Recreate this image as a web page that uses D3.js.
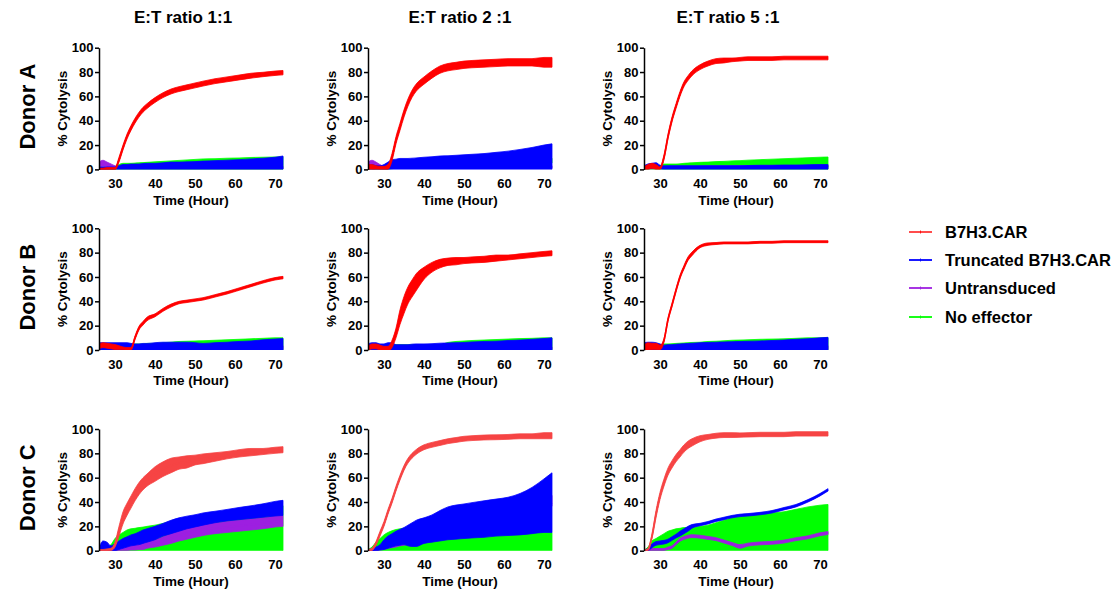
<!DOCTYPE html>
<html><head><meta charset="utf-8">
<script src="https://cdn.jsdelivr.net/npm/d3@7"></script>
<style>
body{margin:0;background:#fff}
svg text{font-family:"Liberation Sans",Arial,Helvetica,sans-serif;font-weight:bold;fill:#000}
</style>
</head><body>
<svg id="chart" width="1116" height="594"></svg>
<script>
// ---------------- DATA ----------------
const donors = ["Donor A", "Donor B", "Donor C"];
const ratios = ["E:T ratio 1:1", "E:T ratio 2 :1", "E:T ratio 5 :1"];
const seriesNames = ["B7H3.CAR", "Truncated B7H3.CAR", "Untransduced", "No effector"];
const hours = [26,27,28,29,30,31,32,33,34,35,36,37,38,40,42,44,46,48,50,52,55,58,61,64,67,70,72];
const xTicks = [30,40,50,60,70];
const yTicks = [0,20,40,60,80,100];

// Donor A, 1:1
const A1_car      = [0,0,0.5,0.5,0.5,8,18,27,34,40,45,49,52,57,61,64,66,67.5,69,70.5,72.5,74,75.5,77,78,79,79.5];
const A1_car_err  = [1,1,1,1,1,2,2,2,2,2,2,2,2,2,2,2,2,2,2,2,2,2,2,2,1.8,1.8,1.8];
const A1_trunc    = [1,1,1,1,1,1.5,2,2,2.2,2.2,2.2,2.4,2.5,2.5,2.7,3,3,3.1,3.2,3.4,3.6,3.8,4,4.3,4.6,5,5.5];
const A1_trunc_err= [1,1,1,1,1,1.5,2,2,2.2,2.2,2.2,2.4,2.5,2.5,2.7,3,3,3.1,3.2,3.4,3.6,3.8,4,4.3,4.6,5,5.5];
const A1_untr     = [4,5,4,3,2,1.5,1.5,1.5,1.5,1.5,1.5,1.5,1.5,1.5,1.5,1.5,1.5,1.5,1.5,1.5,1.5,1.5,1.5,1.5,1.5,1.5,1.5];
const A1_untr_err = [2,2.5,2,1.5,1,1,1,1,1,1,1,1,1,1,1,1,1,1,1,1,1,1,1,1,1,1,1];
const A1_noeff    = [0.8,0.8,0.8,0.8,1,2,2.5,2.5,2.5,2.6,2.7,2.8,2.9,3.1,3.3,3.5,3.7,3.9,4.1,4.3,4.4,4.6,4.7,4.9,5,5.1,5.2];
const A1_noeff_err= [0.8,0.8,0.8,0.8,1,2,2.5,2.5,2.5,2.6,2.7,2.8,2.9,3.1,3.3,3.5,3.7,3.9,4.1,4.3,4.4,4.6,4.7,4.9,5,5.1,5.2];

// Donor A, 2:1
const A2_car      = [2,2,1,1,1,2,10,24,35,46,55,62,67,73,78,82,84,85,86,86.5,87,87.5,88,88,88,88,88];
const A2_car_err  = [2,2,2,1.5,1.5,2,3,3,3,3,3,3,3,3,3,3,3,3,3,3,3,3,3,3,3,4,4];
const A2_trunc    = [1.5,2,1.5,1.5,2,3,4,4.2,4.5,4.5,4.5,4.6,4.7,5,5.2,5.5,5.6,5.8,6,6.2,6.5,7,7.5,8.2,9,10,10.5];
const A2_trunc_err= [1.5,2,1.5,1.5,2,3,4,4.2,4.5,4.5,4.5,4.6,4.7,5,5.2,5.5,5.6,5.8,6,6.2,6.5,7,7.5,8.2,9,10,10.5];
const A2_untr     = [4,5,4,2.5,1.5,1.5,2,2,2,2,2,2,2,2,2,2,2,2,2,2,2,2,2,2,2,2,2];
const A2_untr_err = [2,2.5,2,1.5,1,1,1,1,1,1,1,1,1,1,1,1,1,1,1,1,1,1,1,1,1,1,1];
const A2_noeff    = [1,1,1,1,1.5,2,2.5,3,3,3,3,3,3.2,3.5,3.8,4,4.2,4.4,4.6,4.8,5,5.3,5.6,6,6.5,7,7.2];
const A2_noeff_err= [1,1,1,1,1.5,2,2,2,2,2,2,2,2,2,2,2,2,2,2,2,2,2,2,2,2,2,2];

// Donor A, 5:1
const A3_car      = [1,2,3,2,1,10,27,41,52,62,70,75,79,84,87,89,89.5,90,90.5,91,91,91,91.5,91.5,91.5,91.5,91.5];
const A3_car_err  = [1,2,2,2,1,2,2,2,2,2,2,2,2,2,2,2,2,1.5,1.5,1.5,1.5,1.5,1.5,1.5,1.5,1.5,1.5];
const A3_trunc    = [2,2.5,3,3.5,2,1.5,1.5,1.5,1.5,1.5,1.5,1.5,1.5,1.5,1.5,1.5,1.5,1.5,1.5,1.6,1.7,1.7,1.8,1.8,1.9,2,2];
const A3_trunc_err= [1,2,2,2,1.5,1.5,1.5,1.5,1.5,1.5,1.5,1.5,1.5,1.5,1.5,1.5,1.5,1.5,1.5,1.6,1.7,1.7,1.8,1.8,1.9,2,2];
const A3_untr     = [1,1,1,1,1,1.5,2,2,2,2,2,2,2,2,2.2,2.2,2.2,2.2,2.3,2.3,2.3,2.3,2.4,2.4,2.4,2.4,2.4];
const A3_untr_err = [0.7,0.7,0.7,0.7,0.7,0.7,0.7,0.7,0.7,0.7,0.7,0.7,0.7,0.7,0.7,0.7,0.7,0.7,0.7,0.7,0.7,0.7,0.7,0.7,0.7,0.7,0.7];
const A3_noeff    = [0.8,1,1.2,1.2,1.5,2.2,2.2,2.2,2.2,2.3,2.5,2.6,2.7,2.9,3,3.2,3.3,3.5,3.6,3.8,4,4.2,4.4,4.6,4.8,5,5.1];
const A3_noeff_err= [0.8,1,1.2,1.2,1.5,2.2,2.2,2.2,2.2,2.3,2.5,2.6,2.7,2.9,3,3.2,3.3,3.5,3.6,3.8,4,4.2,4.4,4.6,4.8,5,5.1];

// Donor B, 1:1
const B1_car      = [3,4,3.5,3,2.5,2,1.5,1,1,10,18,22,25.5,28.5,33,36.5,39,40,41,42,44.5,47,50,53,56,58.5,59.5];
const B1_car_err  = [2,2,2,2,2,1.5,1,1,1,1.5,1.5,1.5,1.5,1.2,1.2,1.2,1,1,1,1,1,1,1,1,1,1,1];
const B1_trunc    = [3,3,3,3,3,3,3,3,2.7,2.5,2.5,2.7,2.7,3,3.2,3.2,3.2,3.2,3,2.7,3,3.2,3.5,3.7,4.2,4.5,4.7];
const B1_trunc_err= [3,3,3,3,3,3,3,3,2.7,2.5,2.5,2.7,2.7,3,3.2,3.2,3.2,3.2,3,2.7,3,3.2,3.5,3.7,4.2,4.5,4.7];
const B1_untr     = [2,2,2,2,2,2,2,2,2,2,2,2,2,2,2,2,2,2,2,2,2,2,2,2,2,2,2];
const B1_untr_err = [1.5,1.5,1.5,1.5,1.5,1.5,1.5,1.5,1.5,1.5,1.5,1.5,1.5,1.5,1.5,1.5,1.5,1.5,1.5,1.5,1.5,1.5,1.5,1.5,1.5,1.5,1.5];
const B1_noeff    = [2.5,2.5,2.5,2.5,2.5,2.5,2.5,2.5,2.5,2.5,2.5,2.5,2.7,2.7,3,3.2,3.5,3.6,3.7,3.8,4,4.2,4.4,4.6,4.8,5,5];
const B1_noeff_err= [2.5,2.5,2.5,2.5,2.5,2.5,2.5,2.5,2.5,2.5,2.5,2.5,2.7,2.7,3,3.2,3.5,3.6,3.7,3.8,4,4.2,4.4,4.6,4.8,5,5];

// Donor B, 2:1
const B2_car      = [1,3,3,2,1,1,5,14,27,37,45,50.5,55.5,63,68,71,72.5,73,73.5,74,74.5,75.5,76,77,78,79,79.5];
const B2_car_err  = [2,2,2,2,2,2,3,4,6,7,7,7,7,5,4,3.5,3,3,2.5,2.5,2.5,2.5,2,2,2,2,2];
const B2_trunc    = [2.5,3,3,2.5,2.5,3,3,2.2,2.2,2.2,2.2,2.4,2.5,2.5,2.6,2.8,2.9,3,3.1,3.3,3.5,3.6,3.9,4.1,4.4,4.7,5];
const B2_trunc_err= [2.5,3,3,2.5,2.5,3,3,2.2,2.2,2.2,2.2,2.4,2.5,2.5,2.6,2.8,2.9,3,3.1,3.3,3.5,3.6,3.9,4.1,4.4,4.7,5];
const B2_untr     = [2,3,2.5,2,1.5,1.5,1.5,1.5,1.5,1.5,1.5,1.5,1.5,1.5,1.5,1.5,1.5,1.5,1.5,1.5,1.5,1.5,1.5,1.5,1.5,1.5,1.5];
const B2_untr_err = [1.5,2,1.5,1.5,1,1,1,1,1,1,1,1,1,1,1,1,1,1,1,1,1,1,1,1,1,1,1];
const B2_noeff    = [2.2,2.2,2.2,2.2,2.2,2.2,2.2,2.2,2.2,2.2,2.2,2.2,2.2,2.2,2.2,2.2,3.1,3.5,3.7,3.9,4.1,4.3,4.5,4.7,4.8,5,5];
const B2_noeff_err= [2.2,2.2,2.2,2.2,2.2,2.2,2.2,2.2,2.2,2.2,2.2,2.2,2.2,2.2,2.2,2.2,3.1,3.5,3.7,3.9,4.1,4.3,4.5,4.7,4.8,5,5];

// Donor B, 5:1
const B3_car      = [2,3,3,3,2,8,25,37,49,60,68,75,79,85,87,87.5,88,88,88,88,88.5,88.5,89,89,89,89,89];
const B3_car_err  = [2,3,2.5,2.5,2,1.5,1.5,1.5,1.5,1.5,1.5,1.5,1.5,1,1,0.8,0.8,0.8,0.8,0.8,0.8,0.8,0.8,0.8,0.8,0.8,0.8];
const B3_trunc    = [3,3.2,3.2,3,2.5,2,2.2,2.2,2.4,2.5,2.6,2.7,2.8,3,3.1,3.2,3.3,3.4,3.5,3.6,3.7,3.9,4.1,4.4,4.6,5,5.2];
const B3_trunc_err= [3,3.2,3.2,3,2.5,2,2.2,2.2,2.4,2.5,2.6,2.7,2.8,3,3.1,3.2,3.3,3.4,3.5,3.6,3.7,3.9,4.1,4.4,4.6,5,5.2];
const B3_untr     = [2,2,2,2,2,2,2,2,2,2,2,2,2,2,2,2,2,2,2,2,2,2,2,2,2,2,2];
const B3_untr_err = [1.5,1.5,1.5,1.5,1.5,1.5,1.5,1.5,1.5,1.5,1.5,1.5,1.5,1.5,1.5,1.5,1.5,1.5,1.5,1.5,1.5,1.5,1.5,1.5,1.5,1.5,1.5];
const B3_noeff    = [2,2,2,2,2,2.5,2.5,2.6,2.7,2.8,2.9,3,3.1,3.2,3.5,3.6,3.8,4,4.1,4.2,4.4,4.5,4.6,4.8,5,5,5.1];
const B3_noeff_err= [2,2,2,2,2,2.5,2.5,2.6,2.7,2.8,2.9,3,3.1,3.2,3.5,3.6,3.8,4,4.1,4.2,4.4,4.5,4.6,4.8,5,5,5.1];

// Donor C, 1:1
const C1_car      = [0,0,0.5,1,5,16,27,34,40,46,51,55,58,63,67,70,72,73,74.5,75.5,77,78.5,80,81,81.5,82.5,83];
const C1_car_err  = [1,1,1,1,2,4,5,5,5,5,5,5,5,6,6,6,5,5,4,4,3.5,3,3,3,2.5,2.5,2.5];
const C1_trunc    = [1,4.5,4,2,3,4.5,6,7.2,8.5,9.2,10.2,11.5,12.5,14.5,17.2,19.5,21.5,23.2,24.5,26,27.7,29.2,30.5,31.7,33,34.5,35.2];
const C1_trunc_err= [1,3.5,3,2,3,3.5,4,4.2,4.5,4.7,5.2,5.5,5.5,5.5,5.2,5.5,5.5,5.2,5,5,4.7,4.7,5,5.2,5.5,6,6.2];
const C1_untr     = [1,1,1,1,1,1,1.5,2,2.5,3,3.5,4,5,6,8,10,12.5,14.5,16,17.5,18.5,19.5,20.5,21.5,22.5,24,24.5];
const C1_untr_err = [1,1,1,1,1,1,1.5,2,2,2.5,2.5,3,3,3,3.5,4,4.5,5,5,5,4.5,4.5,4.5,4.5,4.5,4.5,4.5];
const C1_noeff    = [1,1.5,1.5,2.5,5,6.5,7.5,8.5,9,9.2,9.5,9.7,10,10.5,11.2,12,12.7,13.5,14.2,14.7,15.5,16.2,17,17.5,18,18.5,18.5];
const C1_noeff_err= [1,1.5,1.5,2.5,5,6.5,7.5,8.5,9,9.2,9.5,9.7,10,10.5,11.2,12,12.7,13.5,14.2,14.7,15.5,16.2,17,17.5,18,18.5,18.5];

// Donor C, 2:1
const C2_car      = [0,1,6,14,22,32,41,51,60,68,74,78,81,85,87,88.5,90,91,92,92.5,93,93.2,93.5,94,94,94.5,94.5];
const C2_car_err  = [1,1,1.5,2,2,2,2,2,2,2,2,2,2,2,2,2,2,2,2,2,2,2,2,2,2,2.5,2.5];
const C2_trunc    = [0.5,0.7,1.5,2.7,5,7,8.5,10,11,12,12.5,13.2,14.2,16.5,18.2,20.5,22.5,23.5,24.2,25,26,27.2,28.2,30,33,37,39.5];
const C2_trunc_err= [0.5,0.7,1.5,2.2,4,5,5.5,6,6.5,7,8.5,9.7,10.7,10.5,11.2,12.5,13.5,14,14.2,14.5,15,15.2,15.7,17,19,22,24.5];
const C2_untr     = [0.5,0.5,1,2,3,4,5,6,7,8,9,10,11,14,16,18,20,22,25,27,28,30,32,34,36,40,41];
const C2_untr_err = [0.5,0.5,1,1.5,2,2,2.5,3,3,3.5,3.5,3.5,4,4,4,4,4,4,4,4,4,4,4,4,4,4.5,4.5];
const C2_noeff    = [0.5,1.5,3.5,5,6.5,7.5,8.2,8.7,9,9.2,9,8.5,8,7.5,7.5,7.5,7.5,7.5,7.5,7.5,7.5,7.5,7.5,7.5,7.5,7.5,7.5];
const C2_noeff_err= [0.5,1.5,3.5,5,6.5,7.5,8.2,8.7,9,9.2,9,8.5,8,7.5,7.5,7.5,7.5,7.5,7.5,7.5,7.5,7.5,7.5,7.5,7.5,7.5,7.5];

// Donor C, 5:1
const C3_car      = [0,1,12,30,45,56,65,71,76,80,84,87,89,92,93.5,94.5,95,95,95,95.2,95.5,95.5,95.5,96,96,96,96];
const C3_car_err  = [0.5,1,2,3,3,3,3,3,3,3,3,3,3,2.5,2,2,2,2,1.8,1.8,1.8,1.8,1.8,1.8,1.8,1.8,1.8];
const C3_trunc    = [0,1,4,6,6.5,7,8,10,12,14,16,18,20,21.5,23,25,26.5,28,29,29.5,30.5,32,34.5,37,41,46,50];
const C3_trunc_err= [0.5,1,1.5,1.5,1.5,1.5,1.5,1.5,1.5,2,2,2,1.5,1,1,1,1,1,1,1,1,1,1,1,1,1,1];
const C3_untr     = [0,0.5,1,1,1,1,2,3,6,9,10.5,11.5,12,11.5,10.5,9.5,7.5,5.5,3.5,5,6,6.5,7.5,9.5,11,13.5,14.5];
const C3_untr_err = [0.5,0.5,0.8,0.8,0.8,0.8,1,1,1,1.2,1.2,1.2,1.2,1.2,1.2,1.2,1.2,1.2,1.5,1.2,1.2,1.2,1.2,1.2,1.2,1.2,1.2];
const C3_noeff    = [0.3,1.5,4,5,6,7,8,8.5,9,9.2,9.5,9.5,9.5,10,10.5,11.5,12.5,13.5,14,14.5,15,15.5,16,17,18,18.7,19];
const C3_noeff_err= [0.3,1.5,4,5,6,7,8,8.5,9,9.2,9.5,9.5,9.5,10,10.5,11.5,12.5,13.5,14,14.5,15,15.5,16,17,18,18.7,19];

// panels: [row][col] -> series in legend order [car, trunc, untr, noeff]
const panels = [
  [[[A1_car,A1_car_err],[A1_trunc,A1_trunc_err],[A1_untr,A1_untr_err],[A1_noeff,A1_noeff_err]],
   [[A2_car,A2_car_err],[A2_trunc,A2_trunc_err],[A2_untr,A2_untr_err],[A2_noeff,A2_noeff_err]],
   [[A3_car,A3_car_err],[A3_trunc,A3_trunc_err],[A3_untr,A3_untr_err],[A3_noeff,A3_noeff_err]]],
  [[[B1_car,B1_car_err],[B1_trunc,B1_trunc_err],[B1_untr,B1_untr_err],[B1_noeff,B1_noeff_err]],
   [[B2_car,B2_car_err],[B2_trunc,B2_trunc_err],[B2_untr,B2_untr_err],[B2_noeff,B2_noeff_err]],
   [[B3_car,B3_car_err],[B3_trunc,B3_trunc_err],[B3_untr,B3_untr_err],[B3_noeff,B3_noeff_err]]],
  [[[C1_car,C1_car_err],[C1_trunc,C1_trunc_err],[C1_untr,C1_untr_err],[C1_noeff,C1_noeff_err]],
   [[C2_car,C2_car_err],[C2_trunc,C2_trunc_err],[C2_untr,C2_untr_err],[C2_noeff,C2_noeff_err]],
   [[C3_car,C3_car_err],[C3_trunc,C3_trunc_err],[C3_untr,C3_untr_err],[C3_noeff,C3_noeff_err]]]
];

// ---------------- LAYOUT / STYLE ----------------
const colors = ["#ff0000", "#0000ff", "#9d1fe0", "#00ff00"];
const colorsRowC = ["#f64444", "#0000ff", "#9d1fe0", "#00ff00"];
const colX = [99, 368, 644];
const rowY = [47.7, 228.3, 429];
const plotW = 184, plotH = 121.7;
const titleX = [183, 460, 728];
const drawOrder = [3, 2, 1, 0];

const svg = d3.select("#chart");
const x = d3.scaleLinear().domain([26, 72]).range([0, plotW]);
const y = d3.scaleLinear().domain([0, 100]).range([plotH, 0]);

svg.append("defs").append("clipPath").attr("id", "clip")
  .append("rect").attr("x", 0).attr("y", -6).attr("width", plotW + 1).attr("height", plotH + 6);

// column titles
ratios.forEach((t, c) => {
  svg.append("text").attr("x", titleX[c]).attr("y", 17.5)
    .attr("text-anchor", "middle").attr("dominant-baseline", "central")
    .style("font-size", "17px").text(t);
});
// row labels
donors.forEach((t, r) => {
  const cy = rowY[r] + plotH / 2 - 2;
  svg.append("text").attr("transform", `translate(27,${cy}) rotate(-90)`)
    .attr("text-anchor", "middle").attr("dominant-baseline", "central")
    .style("font-size", "22px").text(t);
});

const area = d3.area()
  .x((d, i) => x(hours[i]))
  .y0(d => y(d[0] - d[1]))
  .y1(d => y(d[0] + d[1]))
  .curve(d3.curveMonotoneX);
const line = d3.line()
  .x((d, i) => x(hours[i]))
  .y(d => y(d))
  .curve(d3.curveMonotoneX);

panels.forEach((row, r) => {
  row.forEach((series, c) => {
    const g = svg.append("g").attr("transform", `translate(${colX[c]},${rowY[r]})`);
    const cols = r === 2 ? colorsRowC : colors;
    const dg = g.append("g").attr("clip-path", "url(#clip)");
    drawOrder.forEach(si => {
      const [mean, err] = series[si];
      const pts = mean.map((m, i) => [m, err[i]]);
      dg.append("path").datum(pts).attr("d", area)
        .attr("fill", cols[si]).attr("stroke", cols[si]).attr("stroke-width", 0.8);
      dg.append("path").datum(mean).attr("d", line)
        .attr("fill", "none").attr("stroke", cols[si]).attr("stroke-width", 1.6);
    });

    // y axis
    const ya = g.append("g").call(d3.axisLeft(y).tickValues(yTicks).tickSize(4).tickSizeOuter(0).tickPadding(1.5));
    ya.select(".domain").attr("stroke", "#000").attr("stroke-width", 1.5);
    ya.selectAll(".tick line").attr("stroke", "#000").attr("stroke-width", 1.5);
    ya.selectAll(".tick text").style("font-size", "13px").style("font-family", null).attr("fill", "#000");

    // x axis (labels only)
    const xa = g.append("g").attr("transform", `translate(0,${plotH})`)
      .call(d3.axisBottom(x).tickValues(xTicks).tickSize(0).tickPadding(9.5));
    xa.select(".domain").remove();
    xa.selectAll(".tick text").style("font-size", "13px").style("font-family", null).attr("fill", "#000");

    g.append("text").attr("transform", `translate(-37,${plotH / 2}) rotate(-90)`)
      .attr("text-anchor", "middle").attr("dominant-baseline", "central")
      .style("font-size", "13.5px").text("% Cytolysis");
    g.append("text").attr("x", plotW / 2).attr("y", plotH + 31)
      .attr("text-anchor", "middle").attr("dominant-baseline", "central")
      .style("font-size", "13.5px").text("Time (Hour)");
  });
});

// legend
const legY = [232, 260, 288, 317];
const lg = svg.append("g");
seriesNames.forEach((n, i) => {
  lg.append("line").attr("x1", 909).attr("x2", 932).attr("y1", legY[i]).attr("y2", legY[i])
    .attr("stroke", colors[i]).attr("stroke-width", 2).attr("stroke-opacity", i === 0 ? 0.7 : 0.9);
  lg.append("line").attr("x1", 920.5).attr("x2", 920.5).attr("y1", legY[i] - 1.5).attr("y2", legY[i] + 1.5)
    .attr("stroke", colors[i]).attr("stroke-width", 1).attr("stroke-opacity", 0.8);
  lg.append("text").attr("x", 945).attr("y", legY[i]).attr("dominant-baseline", "central")
    .style("font-size", "16.5px").text(n);
});
</script>
</body></html>
